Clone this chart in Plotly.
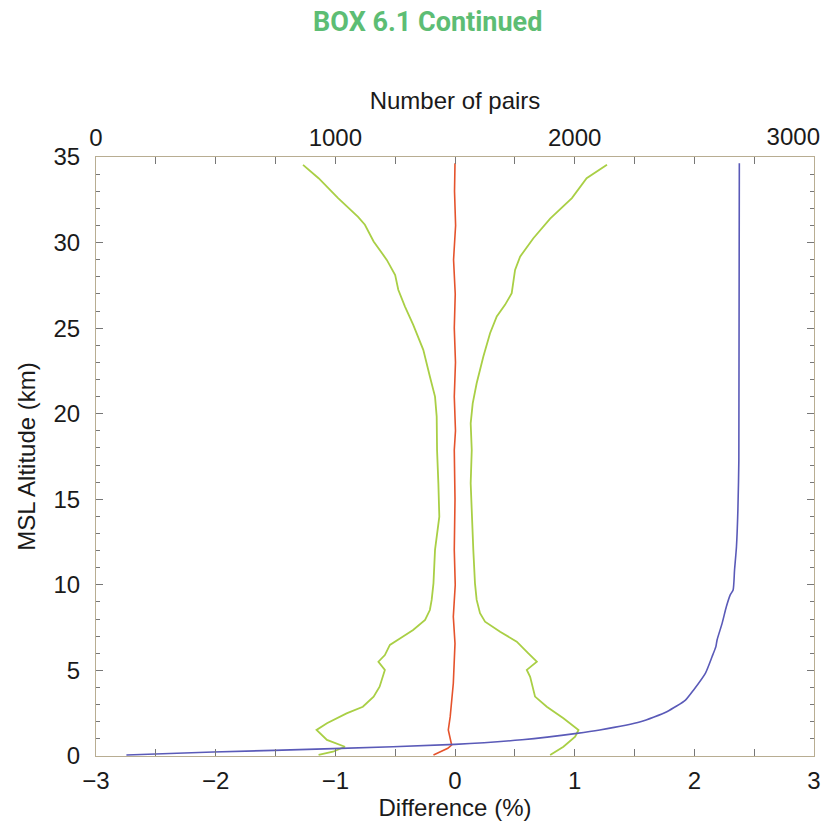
import plotly.graph_objects as go

# ---- data ----
alt_left = [34.54, 33.76, 32.6, 31.5, 31.04, 30.06, 28.99, 28.1, 27.24, 26.26, 25.19, 23.73,
            22.17, 21.0, 19.83, 17.88, 15.93, 13.98, 12.04, 10.09, 9.12, 8.53, 7.95, 7.36,
            6.87, 6.49, 5.9, 5.51, 5.03, 4.05, 3.47, 2.88, 2.49, 1.91, 1.52, 0.94, 0.54,
            0.25, 0.06]
diff_left = [-1.27, -1.14, -0.977, -0.81, -0.753, -0.68, -0.57, -0.50, -0.474, -0.418, -0.349,
             -0.265, -0.21, -0.167, -0.153, -0.150, -0.139, -0.131, -0.167, -0.18, -0.195,
             -0.21, -0.25, -0.35, -0.46, -0.544, -0.586, -0.64, -0.586, -0.63, -0.68, -0.77,
             -0.906, -1.07, -1.157, -1.07, -0.92, -1.02, -1.14]

alt_right = [34.54, 33.76, 32.6, 31.4, 30.25, 29.18, 28.4, 27.04, 26.36, 25.68, 24.7, 23.34,
             21.78, 20.6, 19.44, 17.88, 15.93, 13.98, 12.04, 10.09, 9.12, 8.34, 7.85, 7.26,
             6.68, 6.0, 5.51, 5.03, 4.63, 3.47, 2.88, 2.2, 1.52, 1.13, 0.54, 0.06]
diff_right = [1.27, 1.10, 0.977, 0.795, 0.655, 0.544, 0.502, 0.474, 0.418, 0.349, 0.293, 0.237,
              0.181, 0.148, 0.131, 0.14, 0.131, 0.14, 0.153, 0.167, 0.181, 0.209, 0.251, 0.377,
              0.516, 0.613, 0.684, 0.6, 0.628, 0.669, 0.767, 0.906, 1.032, 1.004, 0.906, 0.795]

alt_mean = [34.64, 33.0, 31.0, 29.0, 27.0, 25.0, 23.0, 21.0, 19.0, 17.88, 15.0, 12.04, 10.0,
            8.14, 6.58, 4.25, 2.30, 1.52, 0.64, 0.45, 0.06]
diff_mean = [0.0, -0.004, 0.005, -0.012, 0.002, -0.006, 0.004, -0.006, 0.004, -0.006, 0.0,
             -0.006, 0.002, -0.014, 0.0, -0.014, -0.04, -0.056, -0.028, -0.06, -0.18]

alt_pairs = [0.06, 0.23, 0.43, 0.68, 0.95, 1.32, 1.52, 2.0, 2.59, 3.27, 3.86, 4.83, 5.80, 6.39,
             6.78, 7.75, 8.73, 9.41, 9.70, 10.87, 12.23, 14.38, 17.3, 34.64]
n_pairs = [127, 490, 990, 1500, 1780, 2009, 2105, 2275, 2385, 2463, 2497, 2546, 2574, 2590,
           2595, 2616, 2634, 2650, 2662, 2668, 2676, 2682, 2686, 2688]

diff_ticks = [-3, -2, -1, 0, 1, 2, 3]
pair_ticks = [0, 1000, 2000]
pair_end_tick = [3000]
alt_ticks = [0, 5, 10, 15, 20, 25, 30, 35]

GREEN = "#a9cf45"
RED = "#e5532c"
BLUE = "#5a5ab8"
FRAME = "#b8ad92"
FONT = "Liberation Sans, Arial, sans-serif"
FS = 24

fig = go.Figure()
fig.add_trace(go.Scatter(x=diff_left, y=alt_left, mode="lines",
                         line=dict(color=GREEN, width=1.8), showlegend=False))
fig.add_trace(go.Scatter(x=diff_right, y=alt_right, mode="lines",
                         line=dict(color=GREEN, width=1.8), showlegend=False))
fig.add_trace(go.Scatter(x=diff_mean, y=alt_mean, mode="lines",
                         line=dict(color=RED, width=1.6), showlegend=False))
fig.add_trace(go.Scatter(x=n_pairs, y=alt_pairs, mode="lines", xaxis="x2",
                         line=dict(color=BLUE, width=1.6, shape="spline", smoothing=0.6),
                         showlegend=False))
# helper trace (invisible) so the end-label axis of the pairs scale is rendered
fig.add_trace(go.Scatter(x=n_pairs, y=alt_pairs, mode="lines", xaxis="x3",
                         line=dict(color="rgba(0,0,0,0)", width=0), hoverinfo="skip",
                         showlegend=False))

fig.update_layout(
    width=829, height=826,
    margin=dict(l=96, r=15, t=157, b=70),
    paper_bgcolor="white", plot_bgcolor="white",
    font=dict(family=FONT, color="#1a1a1a", size=FS),
    title=dict(text="<b>BOX 6.1 Continued</b>", x=0.516, xanchor="center",
               y=1 - 22 / 826, yanchor="middle", yref="container",
               font=dict(family="Roboto, sans-serif", size=27, color="#5dbd74")),
    xaxis=dict(range=[-3, 3], tickvals=diff_ticks, ticks="inside", ticklen=7,
               tickcolor="#777", showline=True, linecolor=FRAME, linewidth=1.2,
               showgrid=False, zeroline=False, ticklabelstandoff=3, automargin=False,
               minor=dict(dtick=0.5, tick0=0, ticks="inside", ticklen=7, tickcolor="#777"),
               title=dict(text="Difference (%)", standoff=6, font=dict(size=FS))),
    xaxis2=dict(range=[0, 3000], overlaying="x", side="top", tickvals=pair_ticks,
                automargin=False,
                ticks="inside", ticklen=7, tickcolor="#777", showline=True,
                linecolor=FRAME, linewidth=1.2, showgrid=False, zeroline=False,
                minor=dict(dtick=250, tick0=0, ticks="inside", ticklen=7, tickcolor="#777"),
                title=dict(text="Number of pairs", standoff=7, font=dict(size=FS))),
    xaxis3=dict(range=[0, 3000], overlaying="x", side="top", tickvals=pair_end_tick,
                ticklabelposition="outside left", automargin=False, ticks="",
                ticklabelstandoff=6, ticklabelshift=6,
                showline=False, showgrid=False, zeroline=False),
    yaxis=dict(range=[0, 35], tickvals=alt_ticks, ticks="inside", ticklen=7,
               tickcolor="#777", showline=True, linecolor=FRAME, linewidth=1.2,
               mirror="ticks", showgrid=False, zeroline=False, ticklabelstandoff=10,
               automargin=False,
               minor=dict(dtick=1, tick0=0, ticks="inside", ticklen=4, tickcolor="#777"),
               title=dict(text="MSL Altitude (km)", standoff=10, font=dict(size=FS))),
)

fig.write_html("out.html")
